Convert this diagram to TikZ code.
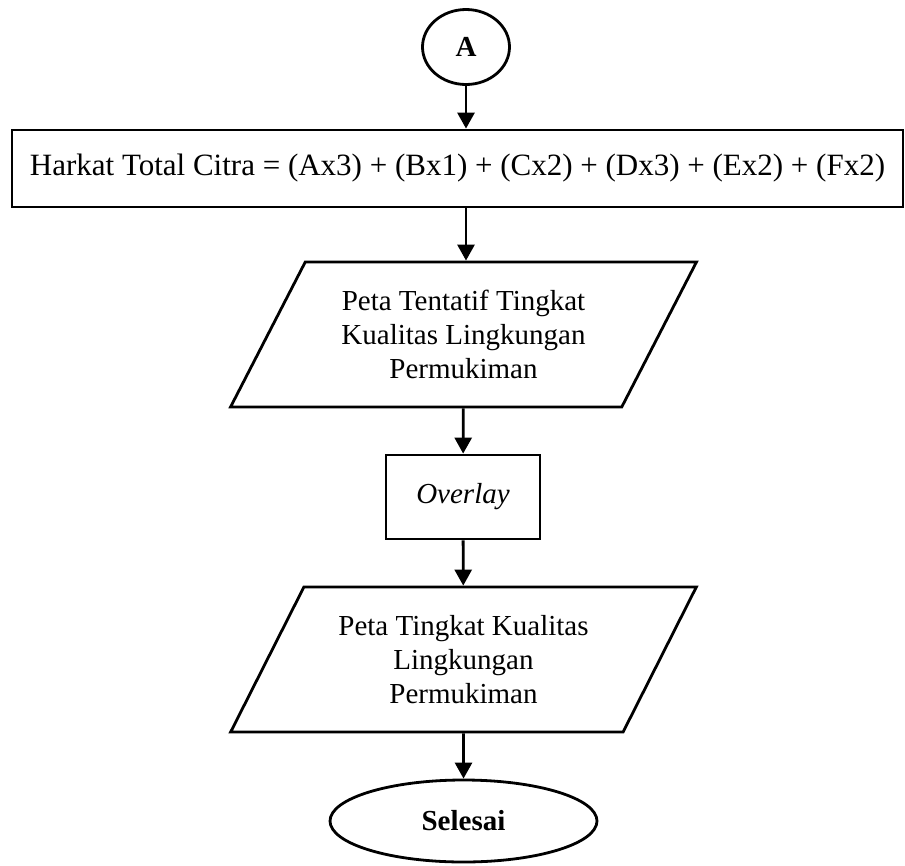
\documentclass[tikz,border=0pt]{standalone}
\usepackage{fontspec}
\setmainfont{Liberation Serif}
\usetikzlibrary{shapes.geometric, arrows.meta}

\begin{document}
\begin{tikzpicture}[x=1pt, y=-1pt, line width=2.8pt,
  box/.style={draw, rectangle, inner sep=0pt},
  data/.style={draw, trapezium, trapezium left angle=57, trapezium right angle=123,
    trapezium stretches=true, minimum width=467pt, minimum height=145pt,
    align=center, inner sep=0pt, font=\fontsize{29}{34}\selectfont},
  arr/.style={-{Triangle[length=16pt, width=17pt]}}]
\useasboundingbox (0,0) rectangle (905,865);

\node[draw, ellipse, minimum width=87pt, minimum height=75pt, inner sep=0pt,
  font=\fontsize{29}{34}\selectfont\bfseries] (a) at (466,47) {A};
\node[box, minimum width=891pt, minimum height=77pt, font=\fontsize{31}{36}\selectfont]
  (harkat) at (457.5,168.5) {Harkat Total Citra = (Ax3) + (Bx1) + (Cx2) + (Dx3) + (Ex2) + (Fx2)};
\node[data] (tentatif) at (463.5,334.5) {Peta Tentatif Tingkat\\Kualitas Lingkungan\\Permukiman};
\node[box, minimum width=154pt, minimum height=84pt, font=\fontsize{29}{34}\selectfont\itshape]
  (overlay) at (463,497) {Overlay};
\node[data] (peta) at (463.5,659.5) {Peta Tingkat Kualitas\\Lingkungan\\Permukiman};
\node[draw, ellipse, minimum width=267pt, minimum height=82pt, inner sep=0pt,
  font=\fontsize{29}{34}\selectfont\bfseries] (selesai) at (463.5,821) {Selesai};

\draw[arr] (a) -- (a |- harkat.north);
\draw[arr] (a |- harkat.south) -- (a |- tentatif.north);
\draw[arr] (tentatif) -- (overlay);
\draw[arr] (overlay) -- (peta);
\draw[arr] (peta) -- (selesai);

\end{tikzpicture}
\end{document}
